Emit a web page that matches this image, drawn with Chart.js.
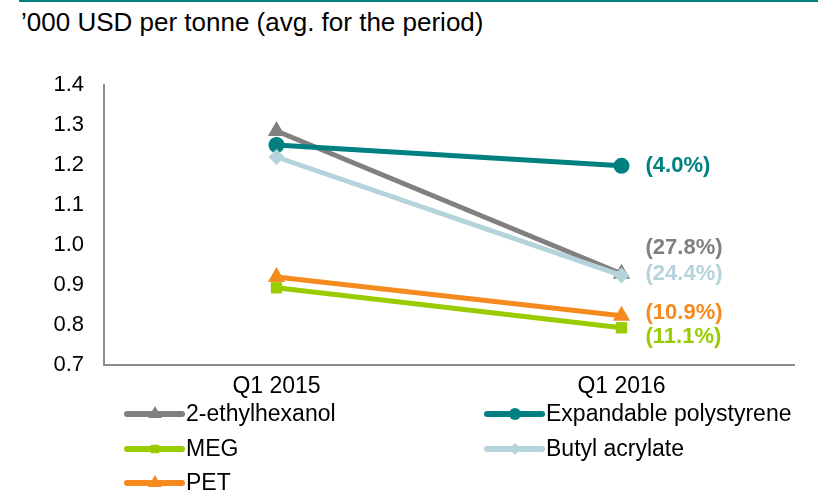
<!DOCTYPE html>
<html>
<head>
<meta charset="utf-8">
<script src="https://cdn.jsdelivr.net/npm/chart.js@4/dist/chart.umd.min.js"></script>
<style>
    body { margin: 0; background: #fff; }
    .wrap { position: relative; width: 818px; height: 494px; overflow: hidden; }
    .topline { position: absolute; left: 19px; right: 0; top: 0; border-top: 2px solid #008080; }
    .title { position: absolute; left: 21px; top: 9px; font: 26px/26px "Liberation Sans", Arial, sans-serif; color: #000; white-space: nowrap; }
    canvas { position: absolute; left: 0; top: 0; }
</style>
</head>
<body>
<div class="wrap">
    <div class="topline"></div>
    <div class="title">’000 USD per tonne (avg. for the period)</div>
    <canvas id="priceChart" width="818" height="494"></canvas>
</div>
<script>
const categories = ['Q1 2015', 'Q1 2016'];
const seriesNames = ['2-ethylhexanol', 'Expandable polystyrene', 'MEG', 'Butyl acrylate', 'PET'];
const ethylhexanol = [1.285, 0.928];
const polystyrene = [1.25, 1.198];
const meg = [0.893, 0.793];
const butylAcrylate = [1.22, 0.924];
const pet = [0.92, 0.823];
const changeLabels = ['(27.8%)', '(4.0%)', '(11.1%)', '(24.4%)', '(10.9%)'];
const yTicks = [0.7, 0.8, 0.9, 1.0, 1.1, 1.2, 1.3, 1.4];

// styling
const colors = ['#808080', '#008080', '#99CC00', '#B4D3DA', '#F58A1F'];
const pointStyles = ['triangle', 'circle', 'rect', 'rectRot', 'triangle'];
const pointSizes = [10, 8, 8, 8, 10];
const drawOrder = [5, 2, 3, 1, 4];
const labelShiftY = [-26, 0, 9, -1, -3];
const FONT = '"Liberation Sans", Arial, sans-serif';

const values = [ethylhexanol, polystyrene, meg, butylAcrylate, pet];

const datasets = seriesNames.map((name, i) => ({
    label: name,
    data: values[i],
    borderColor: colors[i],
    backgroundColor: colors[i],
    borderWidth: 5,
    pointStyle: pointStyles[i],
    pointRadius: pointSizes[i],
    pointHoverRadius: pointSizes[i],
    pointBorderWidth: 0,
    order: drawOrder[i],
    tension: 0
}));

const endLabels = {
    id: 'endLabels',
    afterDatasetsDraw(chart) {
        const ctx = chart.ctx;
        ctx.save();
        ctx.font = 'bold 22px ' + FONT;
        ctx.textBaseline = 'middle';
        ctx.textAlign = 'left';
        chart.data.datasets.forEach((ds, i) => {
            const meta = chart.getDatasetMeta(i);
            const pt = meta.data[meta.data.length - 1];
            ctx.fillStyle = colors[i];
            ctx.fillText(changeLabels[i], pt.x + 24, pt.y + labelShiftY[i]);
        });
        ctx.restore();
    }
};

const sideLegend = {
    id: 'sideLegend',
    afterDraw(chart) {
        const ctx = chart.ctx;
        const colX = [127, 487];
        const rowY = [414, 449, 483];
        ctx.save();
        ctx.font = '23px ' + FONT;
        ctx.textBaseline = 'middle';
        chart.data.datasets.forEach((ds, i) => {
            const x = colX[i % 2];
            const y = rowY[Math.floor(i / 2)];
            ctx.strokeStyle = colors[i];
            ctx.lineWidth = 6;
            ctx.lineCap = 'round';
            ctx.beginPath();
            ctx.moveTo(x, y);
            ctx.lineTo(x + 55, y);
            ctx.stroke();
            ctx.fillStyle = colors[i];
            Chart.helpers.drawPoint(ctx, {
                pointStyle: pointStyles[i],
                radius: pointSizes[i] - 2,
                borderWidth: 0
            }, x + 28, y);
            ctx.fillStyle = '#000';
            ctx.fillText(ds.label, x + 59, y + 1);
        });
        ctx.restore();
    }
};

new Chart(document.getElementById('priceChart'), {
    type: 'line',
    data: { labels: categories, datasets: datasets },
    options: {
        responsive: false,
        animation: false,
        layout: { padding: { top: 85, right: 24, left: 0, bottom: 0 } },
        plugins: {
            legend: { display: false },
            title: { display: false },
            tooltip: { enabled: false }
        },
        scales: {
            x: {
                offset: true,
                grid: { display: false, drawTicks: false },
                border: { color: '#8C8C8C', width: 2 },
                ticks: { color: '#000', font: { family: FONT, size: 23 }, padding: 8 },
                afterFit: (scale) => { scale.height = 129; }
            },
            y: {
                min: 0.7,
                max: 1.4,
                afterBuildTicks: (scale) => { scale.ticks = yTicks.map(v => ({ value: v })); },
                grid: { display: false, drawTicks: false },
                border: { color: '#8C8C8C', width: 2 },
                ticks: {
                    color: '#000',
                    font: { family: FONT, size: 22 },
                    padding: 20,
                    callback: (v) => Number(v).toFixed(1)
                },
                afterFit: (scale) => { scale.width = 104; }
            }
        }
    },
    plugins: [endLabels, sideLegend]
});
</script>
</body>
</html>
